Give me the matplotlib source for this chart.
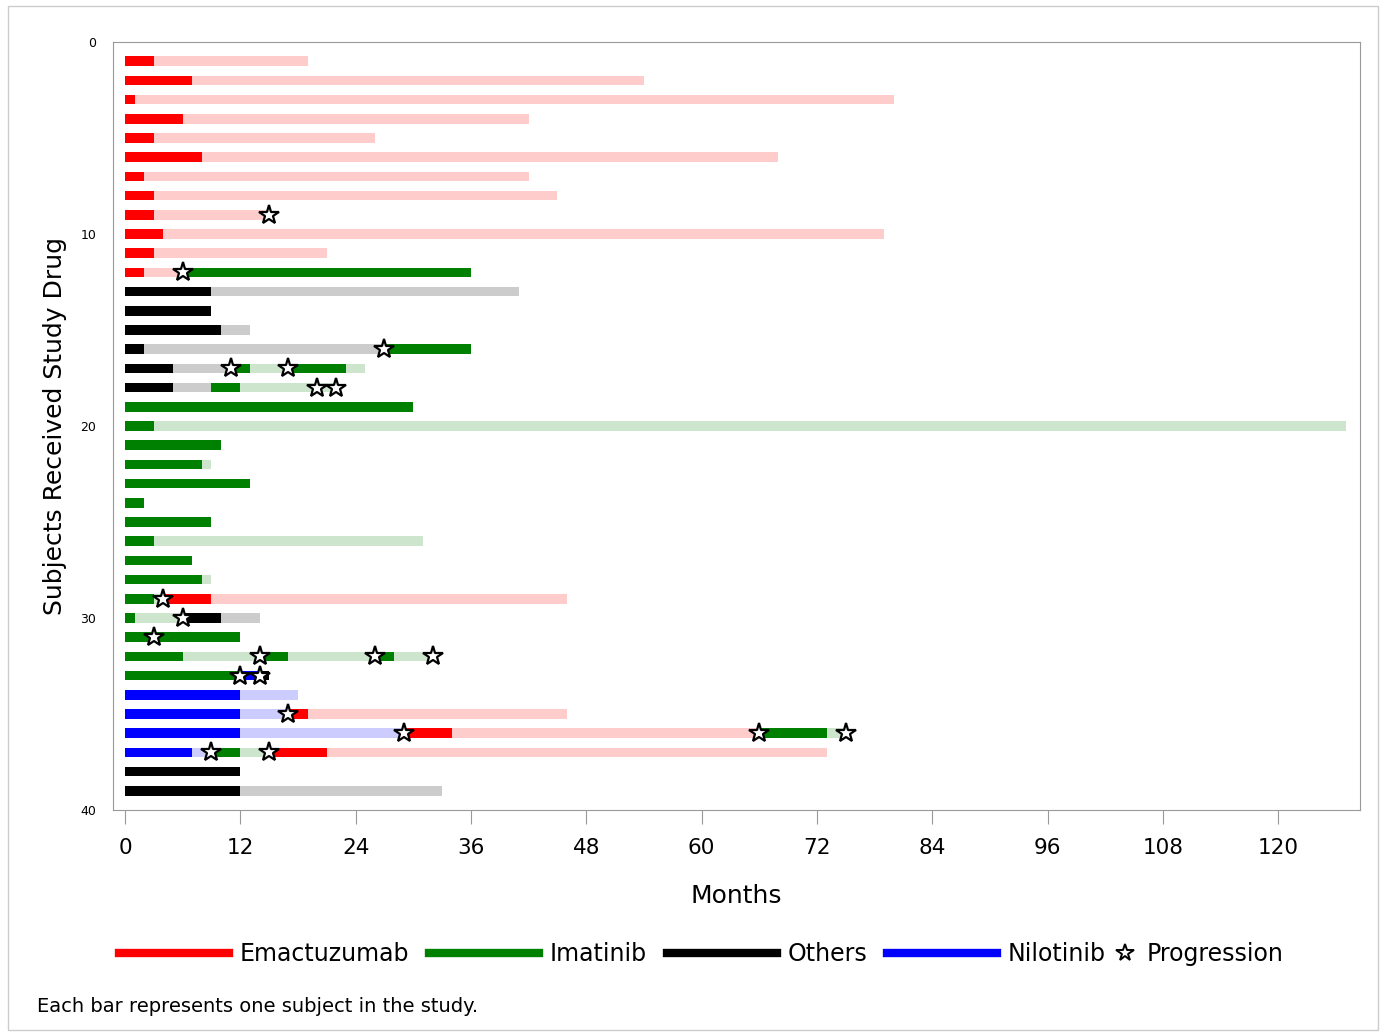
import matplotlib
matplotlib.use("Agg")
import matplotlib.pyplot as plt
from matplotlib.lines import Line2D
from matplotlib.patches import Rectangle
from matplotlib.legend_handler import HandlerBase

# Treatment segments, one line per subject (months).
# drug codes: E = Emactuzumab, I = Imatinib, O = Others, N = Nilotinib
# shade: 1 = on drug, 0 = after drug (light)
seg_subject = [1, 1,  2, 2,  3, 3,  4, 4,  5, 5,  6, 6,  7, 7,  8, 8,  9, 9,  10, 10,  11, 11,
               12, 12, 12,
               13, 13,
               14,
               15, 15,
               16, 16, 16,
               17, 17, 17, 17, 17, 17,
               18, 18, 18, 18,
               19,  20, 20,  21,  22, 22,  23,  24,  25,  26, 26,  27,  28, 28,
               29, 29, 29, 29,
               30, 30, 30, 30,
               31,
               32, 32, 32, 32, 32, 32,
               33, 33, 33,
               34, 34,
               35, 35, 35, 35,
               36, 36, 36, 36, 36, 36,
               37, 37, 37, 37, 37, 37,
               38,
               39, 39]
seg_start = [0, 3,  0, 7,  0, 1,  0, 6,  0, 3,  0, 8,  0, 2,  0, 3,  0, 3,  0, 4,  0, 3,
             0, 2, 6,
             0, 9,
             0,
             0, 10,
             0, 2, 27,
             0, 5, 11, 13, 17, 23,
             0, 5, 9, 12,
             0,  0, 3,  0,  0, 8,  0,  0,  0,  0, 3,  0,  0, 8,
             0, 3, 4, 9,
             0, 1, 6, 10,
             0,
             0, 6, 14, 17, 26, 28,
             0, 12, 14,
             0, 12,
             0, 12, 17, 19,
             0, 12, 29, 34, 66, 73,
             0, 7, 9, 12, 15, 21,
             0,
             0, 12]
seg_end = [3, 19,  7, 54,  1, 80,  6, 42,  3, 26,  8, 68,  2, 42,  3, 45,  3, 15,  4, 79,  3, 21,
           2, 6, 36,
           9, 41,
           9,
           10, 13,
           2, 27, 36,
           5, 11, 13, 17, 23, 25,
           5, 9, 12, 22,
           30,  3, 127,  10,  8, 9,  13,  2,  9,  3, 31,  7,  8, 9,
           3, 4, 9, 46,
           1, 6, 10, 14,
           12,
           6, 14, 17, 26, 28, 32,
           12, 14, 15,
           12, 18,
           12, 17, 19, 46,
           12, 29, 34, 66, 73, 75,
           7, 9, 12, 15, 21, 73,
           12,
           12, 33]
seg_drug = ["E", "E"] * 11 + \
           ["E", "E", "I",
            "O", "O",
            "O",
            "O", "O",
            "O", "O", "I",
            "O", "O", "I", "I", "I", "I",
            "O", "O", "I", "I",
            "I",  "I", "I",  "I",  "I", "I",  "I",  "I",  "I",  "I", "I",  "I",  "I", "I",
            "I", "I", "E", "E",
            "I", "I", "O", "O",
            "I",
            "I", "I", "I", "I", "I", "I",
            "I", "N", "O",
            "N", "N",
            "N", "N", "E", "E",
            "N", "N", "E", "E", "I", "I",
            "N", "N", "I", "I", "E", "E",
            "O",
            "O", "O"]
seg_shade = [1, 0] * 11 + \
            [1, 0, 1,
             1, 0,
             1,
             1, 0,
             1, 0, 1,
             1, 0, 1, 0, 1, 0,
             1, 0, 1, 0,
             1,  1, 0,  1,  1, 0,  1,  1,  1,  1, 0,  1,  1, 0,
             1, 0, 1, 0,
             1, 0, 1, 0,
             1,
             1, 0, 1, 0, 1, 0,
             1, 1, 1,
             1, 0,
             1, 0, 1, 0,
             1, 0, 1, 0, 1, 0,
             1, 0, 1, 0, 1, 0,
             1,
             1, 0]

prog_subject = [9, 12, 16, 17, 17, 18, 18, 29, 30, 31, 32, 32, 32, 33, 33,
                35, 36, 36, 36, 37, 37]
prog_month = [15, 6, 27, 11, 17, 20, 22, 4, 6, 3, 14, 26, 32, 12, 14,
              17, 29, 66, 75, 9, 15]

drug_codes = ["E", "I", "O", "N"]
drug_names = ["Emactuzumab", "Imatinib", "Others", "Nilotinib"]
dark = {"E": "#FF0000", "I": "#008000", "O": "#000000", "N": "#0000FF"}
light = {"E": "#FFCCCC", "I": "#CCE5CC", "O": "#CCCCCC", "N": "#CCCCFF"}


class StarHandler(HandlerBase):
    def create_artists(self, legend, orig, xd, yd, width, height, fontsize, trans):
        m = Line2D([width / 2 - xd], [height / 2 - yd], linestyle="none", marker="*",
                   markersize=13, markerfacecolor="white", markeredgecolor="black",
                   markeredgewidth=1.4, transform=trans)
        return [m]


fig = plt.figure(figsize=(13.86, 10.34), dpi=100)
ax = fig.add_axes([0.0815, 0.2166, 0.8997, 0.7427])

for s, a, b, d, sh in zip(seg_subject, seg_start, seg_end, seg_drug, seg_shade):
    col = dark[d] if sh else light[d]
    ax.barh(s, b - a, left=a, height=0.5, color=col, zorder=3 if sh else 2)

ax.plot(prog_month, prog_subject, linestyle="none", marker="*", markersize=15,
        markerfacecolor="white", markeredgecolor="black", markeredgewidth=1.6, zorder=5)

ax.set_xlim(-1.25, 128.5)
ax.set_ylim(40, 0)
ax.set_xticks(range(0, 121, 12))
ax.set_yticks([0, 10, 20, 30, 40])
ax.tick_params(axis="x", labelsize=15.5, length=10, color="#999999", pad=10)
ax.tick_params(axis="y", labelsize=9, length=0, pad=12)
for sp in ax.spines.values():
    sp.set_color("#999999")
ax.set_xlabel("Months", fontsize=18, labelpad=19)
ax.set_ylabel("Subjects Received Study Drug", fontsize=18, labelpad=10)

handles = [Line2D([], [], color=dark[c], linewidth=6) for c in drug_codes]
fig.legend(handles, drug_names, loc="center", bbox_to_anchor=(0.442, 0.077),
           ncol=4, frameon=False, fontsize=17, handlelength=4.65, handletextpad=0.45,
           columnspacing=0.85)
fig.legend([Line2D([], [], linestyle="none", marker="*")], ["Progression"],
           loc="center left", bbox_to_anchor=(0.788, 0.077), frameon=False, fontsize=17,
           handlelength=1.0, handletextpad=0.4, handler_map={Line2D: StarHandler()})

fig.text(0.027, 0.021, "Each bar represents one subject in the study.", fontsize=14)
fig.patches.append(Rectangle((0.006, 0.004), 0.988, 0.99, transform=fig.transFigure,
                             fill=False, edgecolor="#CCCCCC", linewidth=1))

plt.savefig("out.png")
